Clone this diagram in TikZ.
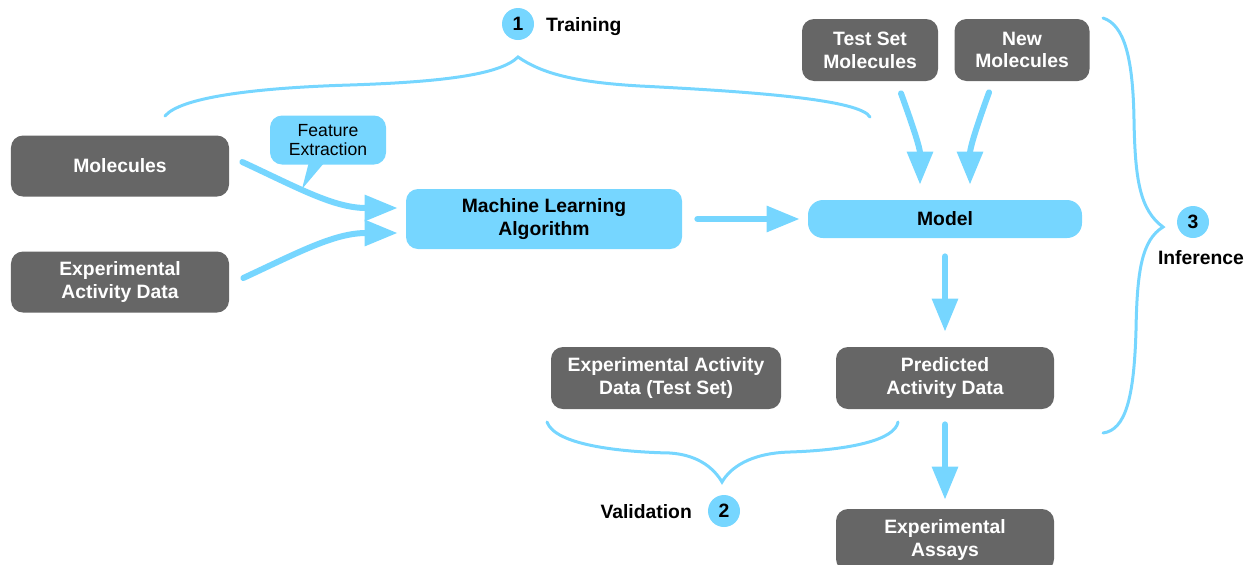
\documentclass[tikz,border=0pt]{standalone}
\usepackage{fontspec}
\setmainfont{Liberation Sans}
\usetikzlibrary{arrows.meta}
\definecolor{boxgray}{HTML}{666666}
\definecolor{skyblue}{HTML}{76D6FF}

\begin{document}
\begin{tikzpicture}[font=\fontsize{11}{13}\selectfont\bfseries,
    gray node/.style={rounded corners=0.24cm,fill=boxgray,text=white,align=center,minimum width=4.36cm,minimum height=1.22cm,inner sep=0pt},
    blue node/.style={rounded corners=0.24cm,fill=skyblue,align=center,inner sep=0pt},
    num node/.style={circle,fill=skyblue,minimum size=0.64cm,inner sep=0pt},
    flow/.style={draw,color=skyblue,line width=0.12cm,line cap=round,-{Triangle[length=0.66cm,width=0.5cm]}},
    brace/.style={draw=skyblue,line width=0.06cm,line cap=round}]
    \useasboundingbox (0,0) rectangle (25.04,-11.28);

    \node[gray node] at (2.4,-3.32) (mol) {Molecules};
    \node[gray node] at (2.4,-5.64) (exp) {Experimental\\Activity Data};
    \node[blue node, minimum width=5.52cm, minimum height=1.2cm] at (10.88,-4.38) (mla) {Machine Learning\\Algorithm};
    \node[blue node, rounded corners=0.3cm, minimum width=5.48cm, minimum height=0.76cm] at (18.9,-4.38) (model) {Model};
    \node[gray node, minimum width=2.72cm, minimum height=1.24cm] at (17.4,-1.0) (test) {Test Set\\Molecules};
    \node[gray node, minimum width=2.7cm, minimum height=1.24cm] at (20.44,-1.0) (new) {New\\Molecules};
    \node[gray node, minimum width=4.6cm, minimum height=1.24cm] at (13.32,-7.56) (expts) {Experimental Activity\\Data (Test Set)};
    \node[gray node, minimum height=1.24cm] at (18.9,-7.56) (pred) {Predicted\\Activity Data};
    \node[gray node, minimum height=1.24cm] at (18.9,-10.8) (assay) {Experimental\\Assays};

    \node[blue node, font=\fontsize{10}{11.3}\selectfont, minimum width=2.32cm, minimum height=0.98cm] at (6.56,-2.8) (fe) {Feature\\Extraction};
    \fill[skyblue] ([xshift=-0.38cm,yshift=0.06cm]fe.south) -- (6.04,-3.78) -- ([xshift=-0.06cm,yshift=0.06cm]fe.south) -- cycle;

    \node[num node] at (10.36,-0.48) (c1) {1};
    \node[anchor=west] at (10.8,-0.54) (train) {Training};
    \node[num node] at (14.48,-10.22) (c2) {2};
    \node[anchor=east] at (13.96,-10.24) (valid) {Validation};
    \node[num node] at (23.86,-4.44) (c3) {3};
    \node at (24.02,-5.16) (infer) {Inference};

    \path[every edge/.style={flow}]
        ([xshift=0.26cm,yshift=0.08cm]mol.east) edge[out=-25,in=180] ([xshift=-0.16cm,yshift=0.22cm]mla.west)
        ([xshift=0.28cm,yshift=0.08cm]exp.east) edge[out=25,in=180] ([xshift=-0.16cm,yshift=-0.28cm]mla.west)
        (mla.east) edge[shorten <=0.3cm, shorten >=0.16cm] (model.west)
        ([xshift=0.62cm,yshift=-0.24cm]test.south) edge[out=-70,in=90] ([xshift=-0.5cm,yshift=0.3cm]model.north)
        ([xshift=-0.66cm,yshift=-0.22cm]new.south) edge[out=-110,in=90] ([xshift=0.5cm,yshift=0.3cm]model.north)
        (model.south) edge[shorten <=0.36cm, shorten >=0.3cm] (pred.north)
        (pred.south) edge[shorten <=0.3cm, shorten >=0.18cm] (assay.north)
        ;

    \draw[brace] (3.3,-2.32) .. controls (3.6,-1.96) and (5,-1.76) .. (7,-1.7)
        .. controls (8.8,-1.64) and (10,-1.5) .. (10.36,-1.14)
        .. controls (10.8,-1.44) and (11.4,-1.64) .. (12.8,-1.72)
        .. controls (15.2,-1.84) and (17.2,-2.0) .. (17.4,-2.34);
    \draw[brace] (10.94,-8.44) .. controls (11.1,-8.9) and (12.4,-9.04) .. (13.4,-9.06)
        .. controls (14,-9.1) and (14.3,-9.4) .. (14.44,-9.64)
        .. controls (14.6,-9.36) and (15,-9.06) .. (15.8,-9.04)
        .. controls (17,-9.0) and (17.9,-8.8) .. (17.96,-8.44);
    \draw[brace] (22.06,-0.36) .. controls (22.5,-0.5) and (22.66,-1.2) .. (22.68,-2.4)
        .. controls (22.7,-3.6) and (22.8,-4.2) .. (23.26,-4.54)
        .. controls (22.84,-4.8) and (22.74,-5.4) .. (22.72,-6.6)
        .. controls (22.68,-8) and (22.5,-8.6) .. (22.06,-8.66);
\end{tikzpicture}
\end{document}
